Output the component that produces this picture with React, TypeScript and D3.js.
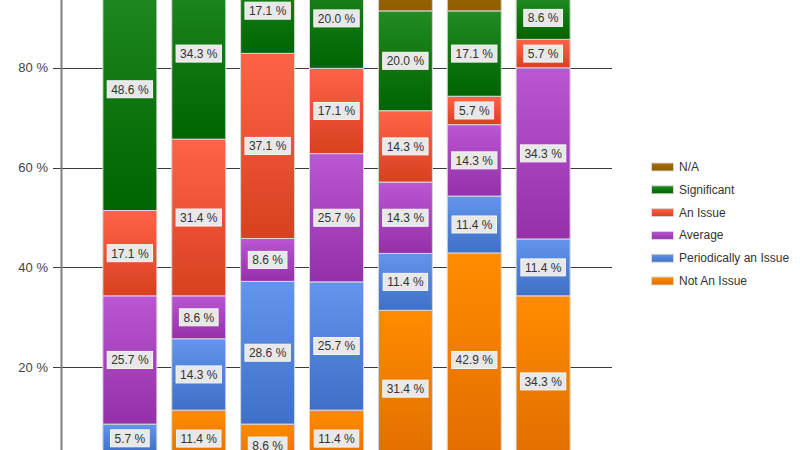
import React, { useEffect, useRef } from "react";
import * as d3 from "d3";

const categories = ["1", "2", "3", "4", "5", "6", "7"];
const seriesNames = ["Not An Issue", "Periodically an Issue", "Average", "An Issue", "Significant", "N/A"];
const notAnIssue = [2.9, 11.4, 8.6, 11.4, 31.4, 42.9, 34.3];
const periodically = [5.7, 14.3, 28.6, 25.7, 11.4, 11.4, 11.4];
const average = [25.7, 8.6, 8.6, 25.7, 14.3, 14.3, 34.3];
const anIssue = [17.1, 31.4, 37.1, 17.1, 14.3, 5.7, 5.7];
const significant = [48.6, 34.3, 17.1, 20.0, 20.0, 17.1, 8.6];
const notApplicable = [0, 0, 0, 0, 8.6, 8.6, 5.7];
const yTicks = [20, 40, 60, 80];

const seriesValues = [notAnIssue, periodically, average, anIssue, significant, notApplicable];
const colorTop = ["#ff8c00", "#6495ed", "#bb56d4", "#ff6347", "#228b22", "#a36e00"];
const colorBottom = ["#e06c00", "#3f70c8", "#9430a8", "#d8401f", "#006400", "#8f5d00"];

export default function App() {
  const ref = useRef<SVGSVGElement>(null);

  useEffect(() => {
    const svg = d3.select(ref.current);
    svg.selectAll("*").remove();

    const y = d3.scaleLinear().domain([0, 100]).range([467, -32]);
    const x = d3.scaleLinear().domain([0, categories.length + 1]).range([61, 612]);
    const barW = 54;

    const defs = svg.append("defs");
    seriesNames.forEach((_, i) => {
      const g = defs.append("linearGradient").attr("id", "g" + i).attr("x1", 0).attr("y1", 0).attr("x2", 0).attr("y2", 1);
      g.append("stop").attr("offset", "0%").attr("stop-color", colorTop[i]);
      g.append("stop").attr("offset", "100%").attr("stop-color", colorBottom[i]);
    });

    // gridlines
    svg.append("g").selectAll("line").data(yTicks).join("line")
      .attr("x1", 53).attr("x2", 612)
      .attr("y1", d => Math.round(y(d)) + 0.5).attr("y2", d => Math.round(y(d)) + 0.5)
      .attr("stroke", "#3a3a3a").attr("stroke-width", 1);

    // y labels
    svg.append("g").selectAll("text").data(yTicks).join("text")
      .attr("x", 48).attr("y", d => y(d) + 4.5)
      .attr("text-anchor", "end")
      .attr("font-family", "Liberation Sans, Arial, sans-serif")
      .attr("font-size", 13).attr("fill", "#444")
      .text(d => d + " %");

    // axis line
    svg.append("line").attr("x1", 61.5).attr("x2", 61.5).attr("y1", 0).attr("y2", 450)
      .attr("stroke", "#808080").attr("stroke-width", 2);

    // stacked data
    const rows = categories.map((c, ci) => {
      const r: any = { cat: c, idx: ci };
      seriesNames.forEach((s, si) => (r[s] = seriesValues[si][ci]));
      return r;
    });
    const stack = d3.stack().keys(seriesNames)(rows);

    const bars = svg.append("g");
    stack.forEach((layer, si) => {
      bars.append("g").selectAll("rect").data(layer.filter(d => d[1] - d[0] > 0)).join("rect")
        .attr("x", d => x((d.data as any).idx + 1) - barW / 2)
        .attr("width", barW)
        .attr("y", d => y(d[1]))
        .attr("height", d => y(d[0]) - y(d[1]))
        .attr("fill", `url(#g${si})`)
        .attr("stroke", "#d8d8d8").attr("stroke-width", 1);
    });

    // labels
    const labels = svg.append("g");
    stack.forEach((layer) => {
      layer.filter(d => d[1] - d[0] > 0).forEach(d => {
        const cx = x((d.data as any).idx + 1);
        const cy = (y(d[0]) + y(d[1])) / 2;
        const v = d[1] - d[0];
        const g = labels.append("g");
        const rect = g.append("rect").attr("fill", "#e8e8e8").attr("stroke", "#f6f6f6").attr("stroke-width", 1);
        const t = g.append("text").attr("x", cx).attr("y", cy + 4.5).attr("text-anchor", "middle")
          .attr("font-family", "Liberation Sans, Arial, sans-serif").attr("font-size", 12).attr("fill", "#333")
          .text(v.toFixed(1) + " %");
        const w = (t.node() as SVGTextElement).getComputedTextLength() + 8;
        rect.attr("x", cx - w / 2).attr("y", cy - 8.5).attr("width", w).attr("height", 17);
      });
    });

    // legend
    const legendOrder = [...seriesNames].reverse();
    const lg = svg.append("g");
    legendOrder.forEach((s, i) => {
      const si = seriesNames.indexOf(s);
      const yy = 167 + i * 22.8;
      lg.append("rect").attr("x", 651.5).attr("y", yy - 4).attr("width", 22).attr("height", 8)
        .attr("fill", `url(#g${si})`).attr("stroke", "#d8d8d8").attr("stroke-width", 1);
      lg.append("text").attr("x", 679).attr("y", yy + 4)
        .attr("font-family", "Liberation Sans, Arial, sans-serif").attr("font-size", 12).attr("fill", "#333")
        .text(s);
    });
  }, []);

  return (
    <svg ref={ref} width={800} height={450}
      style={{ position: "absolute", left: 0, top: 0, background: "#fff", display: "block" }} />
  );
}
